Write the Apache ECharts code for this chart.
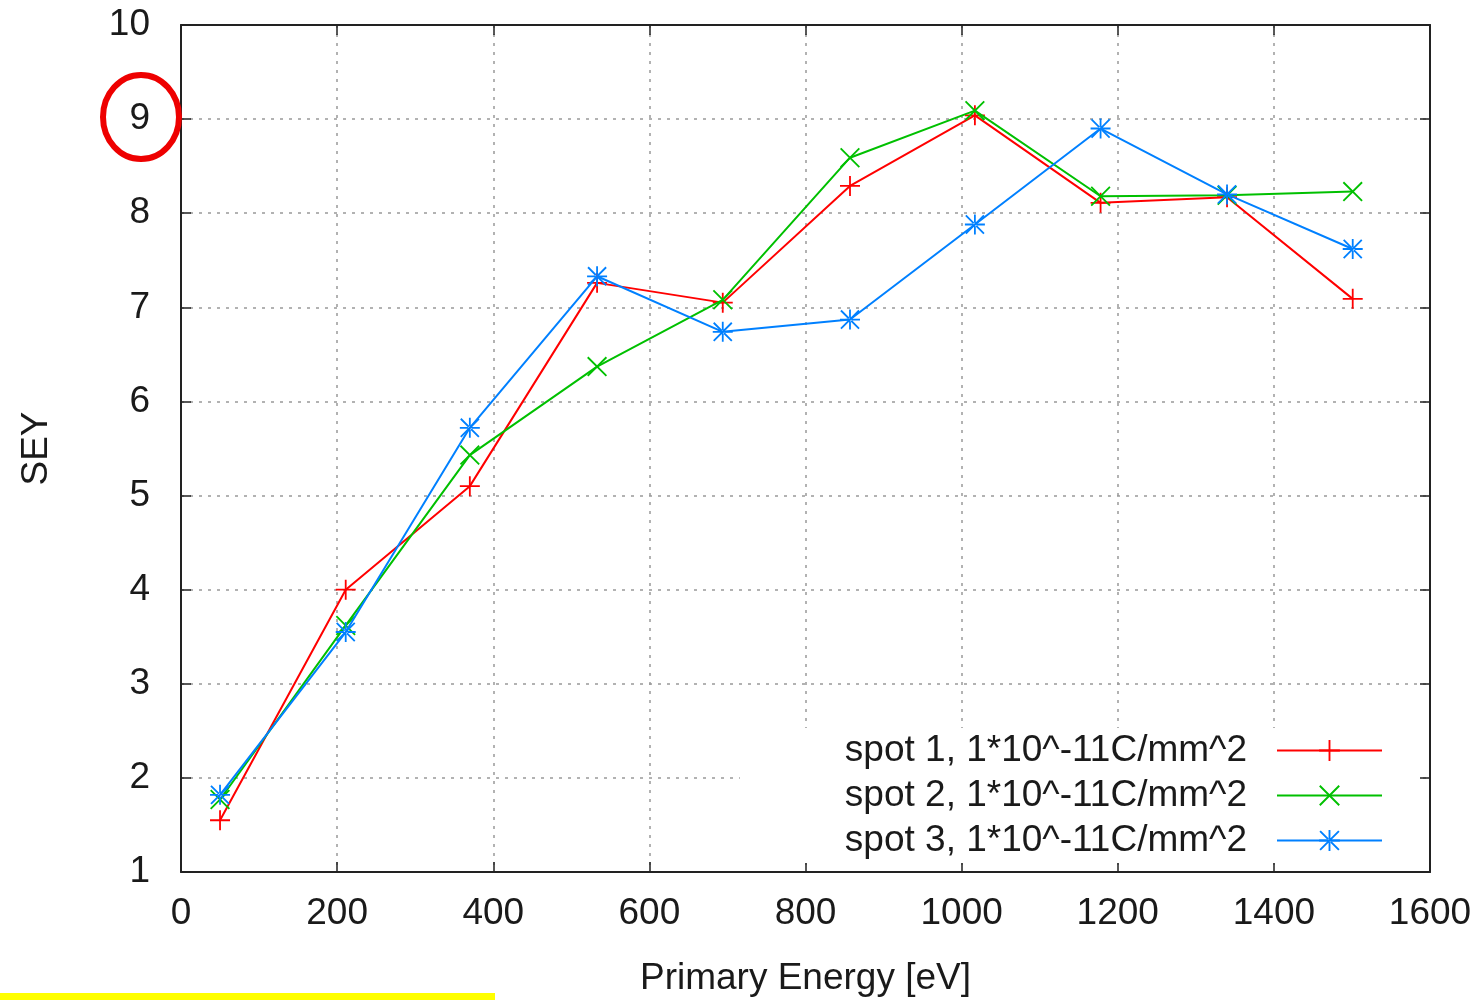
<!DOCTYPE html>
<html>
<head>
<meta charset="utf-8">
<script src="https://cdn.jsdelivr.net/npm/echarts@6/dist/echarts.min.js"></script>
<style>
html,body{margin:0;padding:0;background:#fff;}
#chart{width:1478px;height:1000px;}
</style>
</head>
<body>
<div id="chart"></div>
<script>
// ---- data ----
const energies = [50, 211, 370, 533, 694, 857, 1017, 1178, 1340, 1501];
const spot1 = [1.55, 4.00, 5.10, 7.26, 7.05, 8.29, 9.04, 8.11, 8.17, 7.09];
const spot2 = [1.77, 3.62, 5.43, 6.37, 7.08, 8.59, 9.09, 8.18, 8.19, 8.23];
const spot3 = [1.82, 3.55, 5.72, 7.33, 6.74, 6.87, 7.88, 8.90, 8.20, 7.62];
const seriesNames = [
  'spot 1, 1*10^-11C/mm^2',
  'spot 2, 1*10^-11C/mm^2',
  'spot 3, 1*10^-11C/mm^2'
];
const xAxisName = 'Primary Energy [eV]';
const yAxisName = 'SEY';

// ---- styling ----
const FONT = "'Liberation Sans', Arial, sans-serif";
const FS = 37;
const TXT = '#1a1a1a';
const PLUS = 'path://M9.1,0H10.9V9.1H20V10.9H10.9V20H9.1V10.9H0V9.1H9.1Z';
const CROSS = 'path://M0,1.3L1.3,0L20,18.7L18.7,20Z M18.7,0L20,1.3L1.3,20L0,18.7Z';
const STAR = 'path://M9.1,0H10.9V9.1H20V10.9H10.9V20H9.1V10.9H0V9.1H9.1Z M1.6,0.3L0.3,1.6L18.4,19.7L19.7,18.4Z M18.4,0.3L19.7,1.6L1.6,19.7L0.3,18.4Z';
const colors = ['#ff0000', '#00c000', '#0080ff'];
const symbols = [PLUS, CROSS, STAR];
const values = [spot1, spot2, spot3];

const grid = {left: 181, right: 48, top: 25, bottom: 128, show: false, containLabel: false, outerBoundsMode: 'none'};
const gridLine = {show: true, lineStyle: {color: '#999999', width: 1.5, type: [3, 6]}};
const axisLineStyle = {color: '#222', width: 2};
const tickStyle = {show: true, inside: true, length: 10, lineStyle: {color: '#222', width: 1.5}};
const plainNum = v => String(v);

const chart = echarts.init(document.getElementById('chart'), null, {renderer: 'canvas'});

const option = {
  backgroundColor: '#fff',
  animation: false,
  grid: grid,
  legend: {
    orient: 'vertical',
    right: 60,
    top: 728,
    align: 'right',
    itemWidth: 105,
    itemHeight: 26,
    itemGap: 0,
    backgroundColor: '#fff',
    padding: [0, 35, 0, 105],
    textStyle: {fontFamily: FONT, fontSize: FS, lineHeight: 45, color: TXT, padding: [0, 25, 0, 0]},
    data: seriesNames
  },
  xAxis: [{
    type: 'value', min: 0, max: 1600, interval: 200, position: 'bottom',
    name: xAxisName, nameLocation: 'middle', nameGap: 88,
    nameTextStyle: {fontFamily: FONT, fontSize: FS, color: TXT},
    axisLine: {show: true, lineStyle: axisLineStyle},
    axisTick: tickStyle,
    axisLabel: {fontFamily: FONT, fontSize: FS, color: TXT, margin: 23, formatter: plainNum},
    splitLine: gridLine
  }, {
    type: 'value', min: 0, max: 1600, interval: 200, position: 'top',
    axisLine: {show: true, onZero: false, lineStyle: axisLineStyle},
    axisTick: tickStyle,
    axisLabel: {show: false},
    splitLine: {show: false}
  }],
  yAxis: [{
    type: 'value', min: 1, max: 10, interval: 1, position: 'left',
    name: yAxisName, nameLocation: 'middle', nameGap: 126, nameRotate: 90,
    nameTextStyle: {fontFamily: FONT, fontSize: FS, color: TXT},
    axisLine: {show: true, lineStyle: axisLineStyle},
    axisTick: tickStyle,
    axisLabel: {fontFamily: FONT, fontSize: FS, color: TXT, margin: 31, formatter: plainNum},
    splitLine: gridLine
  }, {
    type: 'value', min: 1, max: 10, interval: 1, position: 'right',
    axisLine: {show: true, onZero: false, lineStyle: axisLineStyle},
    axisTick: tickStyle,
    axisLabel: {show: false},
    splitLine: {show: false}
  }],
  series: values.map((vals, s) => ({
    name: seriesNames[s],
    type: 'line',
    xAxisIndex: 0, yAxisIndex: 0,
    data: energies.map((e, i) => [e, vals[i]]),
    symbol: symbols[s],
    symbolSize: 20,
    showAllSymbol: true,
    lineStyle: {color: colors[s], width: 2},
    itemStyle: {color: colors[s]},
    emphasis: {disabled: true},
    z: 3 + s
  })),
  graphic: [
    {type: 'ellipse', shape: {cx: 141, cy: 117, rx: 38, ry: 42}, style: {fill: 'none', stroke: '#ee0000', lineWidth: 6}, z: 100},
    {type: 'rect', shape: {x: 0, y: 993, width: 495, height: 7}, style: {fill: '#ffff00'}, z: 100}
  ]
};
chart.setOption(option);
</script>
</body>
</html>
